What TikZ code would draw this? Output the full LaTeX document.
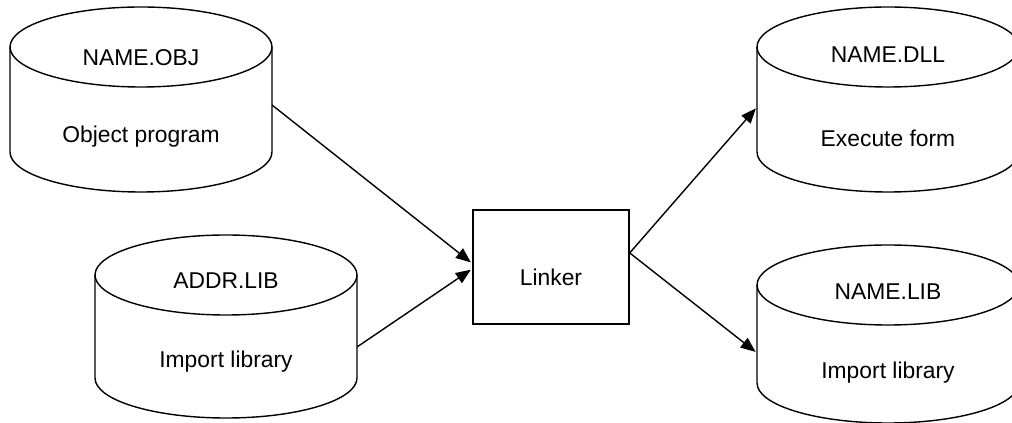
\documentclass[tikz,border=0pt]{standalone}
\usepackage{fontspec}
\setmainfont{Liberation Sans}
\usepackage{tikz}
\usetikzlibrary{arrows.meta,positioning,calc}

\begin{document}
\begin{tikzpicture}[line width=0.8pt,
    lbl/.style={font=\fontsize{13}{15}\selectfont, inner sep=1pt},
    link/.style={-{Triangle[length=0.3cm,width=0.24cm]}, shorten >=1pt}]
  \useasboundingbox (0,0) rectangle (20.24,8.46);
  \clip (0,0) rectangle (20.24,8.46);

  % Object program
  \draw (2.82,7.52) ellipse (2.62 and 0.8);
  \draw (0.2,7.52) -- (0.2,5.42) arc (180:360:2.62 and 0.8) -- (5.44,7.52);
  \node[lbl] (objname) at (2.82,7.3) {NAME.OBJ};
  \node[lbl] (objtext) at (2.82,5.72) {Object program};
  \coordinate (objout) at (5.44,6.36);

  % Import library (input)
  \draw (4.52,2.96) ellipse (2.62 and 0.8);
  \draw (1.9,2.96) -- (1.9,0.9) arc (180:360:2.62 and 0.8) -- (7.14,2.96);
  \node[lbl] (addrname) at (4.52,2.84) {ADDR.LIB};
  \node[lbl] (addrtext) at (4.52,1.22) {Import library};
  \coordinate (addrout) at (7.14,1.52);

  % Linker
  \node[draw, minimum width=3.12cm, minimum height=2.28cm] (linker) at (11.02,3.12) {};
  \node[lbl] (linkertext) at (11.02,2.92) {Linker};

  % Execute form
  \draw (17.76,7.52) ellipse (2.62 and 0.8);
  \draw (15.14,7.52) -- (15.14,5.42) arc (180:360:2.62 and 0.8) -- (20.38,7.52);
  \node[lbl] (dllname) at (17.76,7.36) {NAME.DLL};
  \node[lbl] (dlltext) at (17.76,5.7) {Execute form};
  \coordinate (dllin) at (15.14,6.32);

  % Import library (output)
  \draw (17.76,2.76) ellipse (2.62 and 0.8);
  \draw (15.14,2.76) -- (15.14,0.8) arc (180:360:2.62 and 0.8) -- (20.38,2.76);
  \node[lbl] (libname) at (17.76,2.62) {NAME.LIB};
  \node[lbl] (libtext) at (17.76,1.0) {Import library};
  \coordinate (libin) at (15.14,1.4);

  % Connectors
  \draw[link] (objout) -- ([yshift=2pt]linker.west);
  \draw[link] (addrout) -- ([yshift=-1pt]linker.west);
  \draw[link] ([yshift=8pt]linker.east) -- (dllin);
  \draw[link] ([yshift=8pt]linker.east) -- (libin);
\end{tikzpicture}
\end{document}
